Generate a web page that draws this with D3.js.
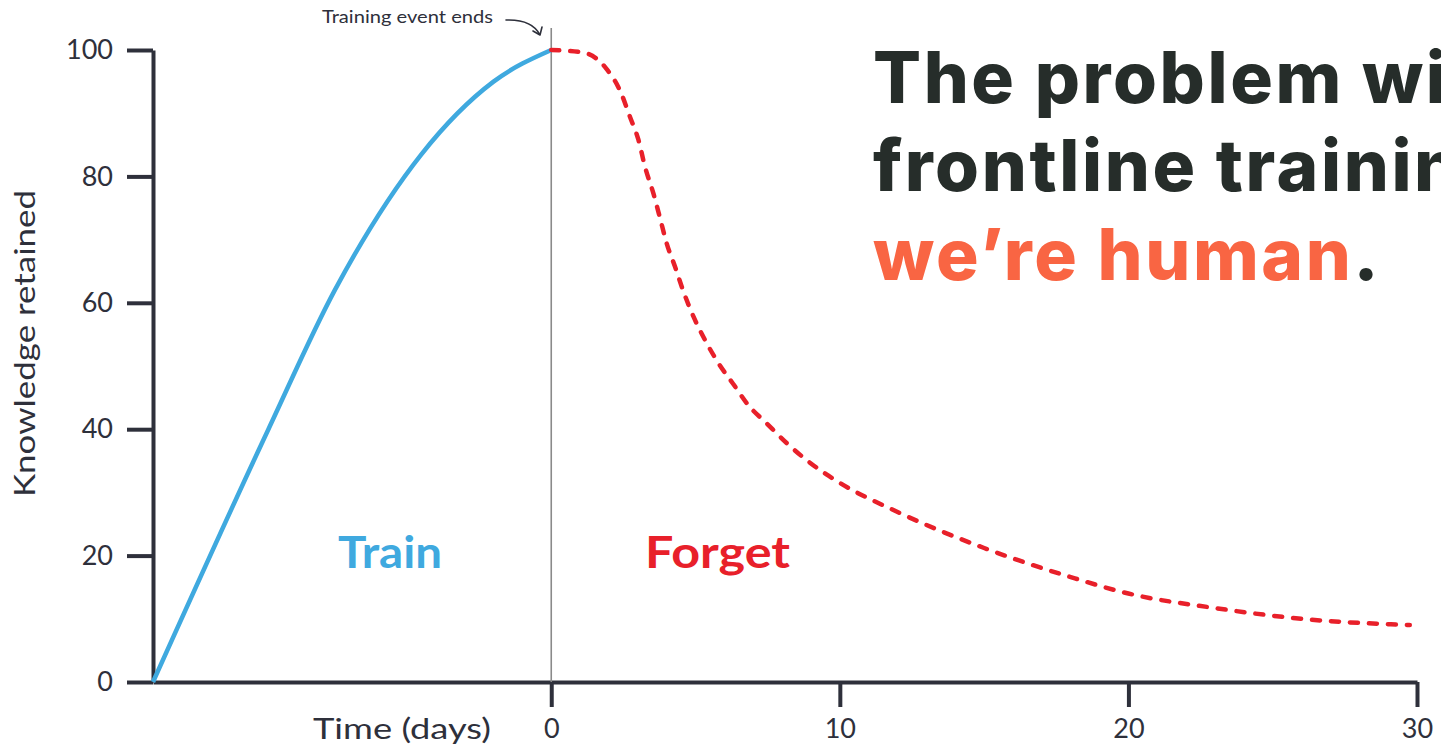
<!DOCTYPE html>
<html>
<head>
<meta charset="utf-8">
<script src="https://cdn.jsdelivr.net/npm/d3@7"></script>
<style>
  html, body { margin: 0; padding: 0; background: #fff; overflow: hidden; }
  svg { display: block; }
</style>
</head>
<body>
<div id="chart"></div>
<script>
// ---- data ----
const trainDays   = [-13.8, -9.8, -7.5, -4.5, -2.0, 0];
const trainValues = [0, 40, 62, 83.5, 95, 100];

const forgetDays   = [0, 1.1, 1.9, 2.4, 2.73, 3.02, 3.25, 3.54, 3.77, 4.0, 4.29, 4.58, 4.93, 5.33, 5.8, 6.3, 6.83, 7.47, 8.16, 8.85, 9.55, 10, 12, 15, 18, 20, 23, 26, 29.75];
const forgetValues = [100, 99.6, 97.1, 93.4, 89.4, 85.8, 81.5, 77.3, 73.4, 69.4, 65.7, 61.8, 57.8, 54.1, 50.4, 47.2, 43.8, 40.9, 37.8, 35.1, 32.8, 31.5, 26.9, 21.2, 16.6, 14.0, 11.7, 10.0, 9.0];

const yTicks = [0, 20, 40, 60, 80, 100];
const xTicks = [0, 10, 20, 30];

const titleLines = ["The problem with", "frontline training", "we\u2019re human"];

// ---- look ----
const width = 1441, height = 745;
const axisColor = "#2e303b";
const blue = "#3fa9df";
const red = "#e8202a";
const orange = "#f96543";
const titleColor = "#262d2a";
const tickFont = "Lato, 'Open Sans', sans-serif";

const svg = d3.select("#chart").append("svg")
  .attr("width", width)
  .attr("height", height);

// scales
const x = d3.scaleLinear().domain([-13.8, 30]).range([153, 1417]);
const y = d3.scaleLinear().domain([0, 100]).range([682, 50]);

// y axis
const yAxis = svg.append("g")
  .attr("transform", `translate(${x(-13.8)},0)`)
  .call(d3.axisLeft(y).tickValues(yTicks).tickSize(26).tickSizeOuter(0).tickPadding(14));

// x axis
const xAxis = svg.append("g")
  .attr("transform", `translate(0,${y(0)})`)
  .call(d3.axisBottom(x).tickValues(xTicks).tickSize(25).tickSizeOuter(0).tickPadding(12));

[yAxis, xAxis].forEach(g => {
  g.select(".domain").attr("stroke", axisColor).attr("stroke-width", 4);
  g.selectAll(".tick line").attr("stroke", axisColor).attr("stroke-width", 4);
  g.selectAll(".tick text")
    .attr("fill", axisColor)
    .attr("font-family", tickFont)
    .attr("font-size", 27);
});

// training end marker
svg.append("line")
  .attr("x1", x(0)).attr("x2", x(0))
  .attr("y1", 28).attr("y2", y(0))
  .attr("stroke", "#8a8a8a")
  .attr("stroke-width", 1.6);

// curves
const line = d3.line()
  .x(d => x(d[0]))
  .y(d => y(d[1]))
  .curve(d3.curveMonotoneX);

svg.append("path")
  .datum(d3.zip(trainDays, trainValues))
  .attr("d", line)
  .attr("fill", "none")
  .attr("stroke", blue)
  .attr("stroke-width", 4.5);

svg.append("path")
  .datum(d3.zip(forgetDays, forgetValues))
  .attr("d", line)
  .attr("fill", "none")
  .attr("stroke", red)
  .attr("stroke-width", 4.5)
  .attr("stroke-linecap", "round")
  .attr("stroke-dasharray", "8,11");

// labels
function label(txt, px, py, len, size, color, weight) {
  return svg.append("text")
    .attr("x", px).attr("y", py)
    .attr("font-family", tickFont)
    .attr("font-weight", weight || 400)
    .attr("font-size", size)
    .attr("fill", color)
    .attr("textLength", len)
    .attr("lengthAdjust", "spacingAndGlyphs")
    .text(txt);
}

label("Train", 338, 568, 104, 44, blue, 700);
label("Forget", 645, 568, 145, 44, red, 700);
label("Time (days)", 313, 739, 178, 28, axisColor);
label("Training event ends", 322, 23, 171, 17, axisColor);

label("Knowledge retained", 0, 0, 307, 28, axisColor)
  .attr("transform", "translate(35,497) rotate(-90)");

// annotation arrow
svg.append("path")
  .attr("d", "M506,20 Q532,19 540,35 M540,35 L533,31 M540,35 L542,27")
  .attr("fill", "none")
  .attr("stroke", axisColor)
  .attr("stroke-width", 1.6)
  .attr("stroke-linecap", "round");

// title (runs off the right edge, as in the original)
const title = svg.append("text")
  .attr("font-family", "Inter, 'Open Sans', sans-serif")
  .attr("font-weight", 800)
  .attr("font-size", 71)
  .attr("letter-spacing", 2.6)
  .attr("fill", titleColor);

title.append("tspan").attr("x", 873).attr("y", 103).text(titleLines[0]);
title.append("tspan").attr("x", 873).attr("y", 191).text(titleLines[1]);
const last = title.append("tspan").attr("x", 873).attr("y", 280);
last.append("tspan").attr("fill", orange).text(titleLines[2]);
last.append("tspan").text(".");
</script>
</body>
</html>
